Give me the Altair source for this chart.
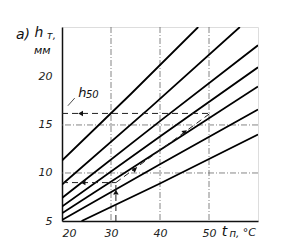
import altair as alt
import pandas as pd

# family of curves h_T(t_n): (t, h) points
line_ids = ["L1", "L1", "L1", "L2", "L2", "L2", "L3", "L3", "L3", "L4", "L4", "L4",
            "L5", "L5", "L5", "L6", "L6", "L6", "L7", "L7", "L7"]
line_t = [20, 34, 47.8, 20, 38, 56.3, 20, 40, 60, 20, 40, 60,
          20, 40, 60, 20, 40, 60, 24, 40, 60]
line_h = [11.3, 18.2, 25.2, 8.8, 16.8, 25.2, 7.4, 15.4, 23.3, 6.5, 13.8, 21.0,
          5.8, 12.4, 19.0, 5.1, 10.9, 16.6, 5.0, 8.9, 14.0]

# dashed construction path
dash_ids = ["a", "a", "b", "b", "c", "c", "d", "d"]
dash_t = [31, 31, 20, 31, 31, 50.2, 50.2, 20]
dash_h = [5, 9, 9, 9, 9, 16.2, 16.2, 16.2]

# arrow heads on the dashed path
arrow_t = [23.8, 24.3, 31, 34.9, 45.1]
arrow_h = [16.2, 9, 8.0, 10.4, 14.3]
arrow_shape = ["triangle-left", "triangle-left", "triangle-up", "triangle-right", "triangle-right"]
arrow_angle = [0, 0, 0, 323, 323]

# grid
vgrid_t = [30, 40, 50]
hgrid_h = [10, 15]

x_ticks = [20, 30, 40, 50]
y_ticks = [5, 10, 15, 20]

XD = [20, 60]
YD = [5, 25.2]
FONT = "DejaVu Sans"

lines_df = pd.DataFrame({"id": line_ids, "t": line_t, "h": line_h})
dash_df = pd.DataFrame({"id": dash_ids, "t": dash_t, "h": dash_h})
arrow_df = pd.DataFrame({"t": arrow_t, "h": arrow_h, "shape": arrow_shape, "angle": arrow_angle})
vgrid_df = pd.DataFrame({"t": vgrid_t})
hgrid_df = pd.DataFrame({"h": hgrid_h})

xs = alt.Scale(domain=XD, nice=False, zero=False)
ys = alt.Scale(domain=YD, nice=False, zero=False)

base_x_axis = alt.Axis(values=x_ticks, title=None, grid=False, ticks=False,
                       labelFont=FONT, labelFontStyle="italic", labelFontSize=11,
                       labelColor="#222", labelPadding=6, domainColor="#111", domainWidth=1.5)
base_y_axis = alt.Axis(values=y_ticks, title=None, grid=False, ticks=False,
                       labelFont=FONT, labelFontStyle="italic", labelFontSize=11,
                       labelColor="#222", labelPadding=10, domainColor="#111", domainWidth=1.5)

vgrid = alt.Chart(vgrid_df).mark_rule(color="#666", strokeWidth=0.8, strokeDash=[6, 2, 1, 2]).encode(
    x=alt.X("t:Q", scale=xs, axis=base_x_axis)
)
hgrid = alt.Chart(hgrid_df).mark_rule(color="#666", strokeWidth=0.8, strokeDash=[6, 2, 1, 2]).encode(
    y=alt.Y("h:Q", scale=ys, axis=base_y_axis)
)

curves = alt.Chart(lines_df).mark_line(color="black", strokeWidth=1.8, clip=True).encode(
    x=alt.X("t:Q", scale=xs),
    y=alt.Y("h:Q", scale=ys),
    detail="id:N",
)

dashed = alt.Chart(dash_df).mark_line(color="#222", strokeWidth=1, strokeDash=[6, 4]).encode(
    x=alt.X("t:Q", scale=xs),
    y=alt.Y("h:Q", scale=ys),
    detail="id:N",
)

arrows = alt.Chart(arrow_df).mark_point(filled=True, color="#111", size=30, opacity=1).encode(
    x=alt.X("t:Q", scale=xs),
    y=alt.Y("h:Q", scale=ys),
    shape=alt.Shape("shape:N", scale=None),
    angle=alt.Angle("angle:Q", scale=None),
)

# text annotations (positions in data units)
ann_t = [10.6, 14.4, 16.9, 14.3, 23.3, 24.9, 52.6, 54.2, 56.9]
ann_h = [24.0, 24.2, 23.9, 22.4, 17.9, 17.8, 3.4, 3.3, 3.4]
ann_txt = ["a)", "h", "т,", "мм", "h", "50", "t", "п,", "°C"]
ann_size = [14, 14, 10, 11, 13, 10, 14, 10, 11]
ann_df = pd.DataFrame({"t": ann_t, "h": ann_h, "txt": ann_txt, "size": ann_size})

texts = alt.Chart(ann_df).mark_text(font=FONT, fontStyle="italic", align="left",
                                    baseline="alphabetic", color="#111").encode(
    x=alt.X("t:Q", scale=xs),
    y=alt.Y("h:Q", scale=ys),
    text="txt:N",
    size=alt.Size("size:Q", scale=None),
)

leader_df = pd.DataFrame({"t": [21.2, 22.6], "h": [17.0, 17.8]})
leader = alt.Chart(leader_df).mark_line(color="#222", strokeWidth=0.8).encode(
    x=alt.X("t:Q", scale=xs),
    y=alt.Y("h:Q", scale=ys),
)

chart = alt.layer(vgrid, hgrid, curves, dashed, arrows, leader, texts).properties(
    width=196, height=194,
    autosize=alt.AutoSizeParams(type="none"),
    padding={"left": 62, "top": 27, "right": 23, "bottom": 31},
).configure_view(stroke="#444", strokeWidth=1, strokeDash=[8, 1]).configure(background="white")

chart.save("out.html", embed_options={"renderer": "svg", "actions": False})
